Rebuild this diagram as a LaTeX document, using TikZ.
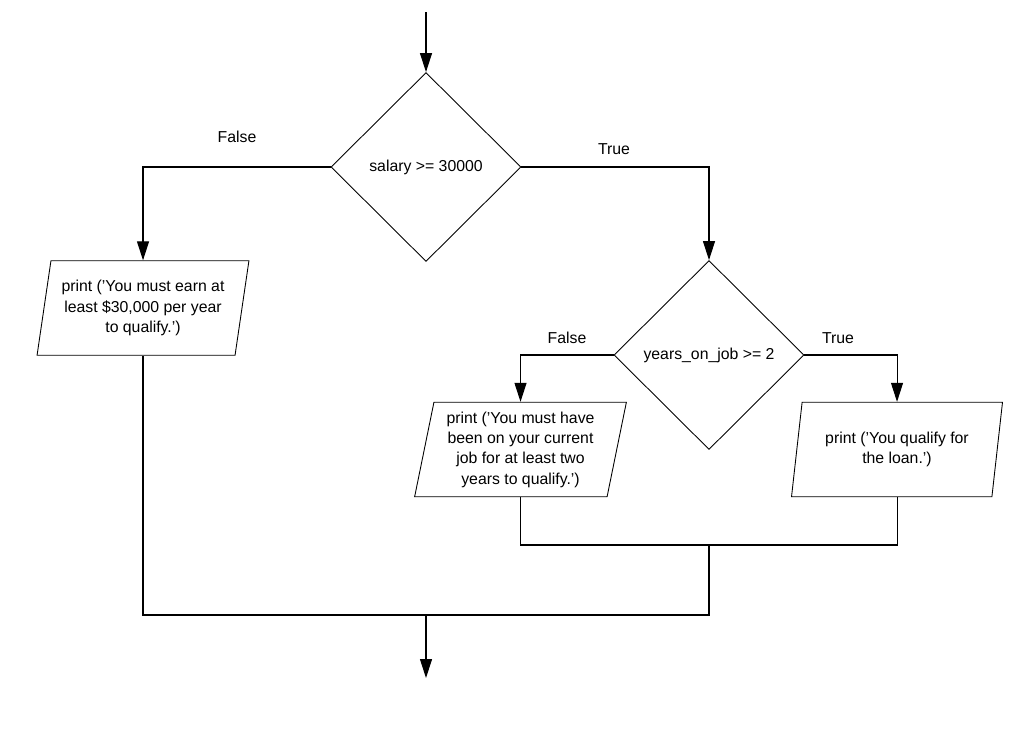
\documentclass[tikz,border=0pt]{standalone}
\usepackage{fontspec}
\setmainfont{Liberation Sans}
\usetikzlibrary{shapes.geometric}
\usetikzlibrary{arrows.meta}
\usetikzlibrary{positioning}

\begin{document}
\begin{tikzpicture}[
  x=0.02cm,
  y=-0.02cm,
  every node/.style={font=\fontsize{9}{11.6}\selectfont},
  decision/.style={diamond, draw, inner sep=0pt, minimum width=3.8cm, minimum height=3.78cm, line width=0.5pt},
  output/.style={trapezium, trapezium left angle=78, trapezium right angle=102, trapezium stretches=true,
    draw, inner sep=1pt, minimum width=4.24cm, minimum height=1.89cm, align=center, line width=0.5pt},
  flow/.style={line width=0.6pt},
  arrow/.style={flow, -{Triangle[length=0.38cm, width=0.24cm]}}
]

\useasboundingbox (0,0) rectangle (1030,751);

% decisions
\node[decision] (salary) at (426,167) {salary >= 30000};
\node[decision] (years) at (709,355) {years\_on\_job >= 2};

% outputs
\node[output] (earn) at (143,308) {print ('You must earn at\\ least \$30,000 per year\\ to qualify.')};
\node[output] (onjob) at (520.5,449.5) {print ('You must have\\ been on your current\\ job for at least two\\ years to qualify.')};
\node[output] (loan) at (897,449.5) {print ('You qualify for\\ the loan.')};

\coordinate (start) at (426,12);
\coordinate (stop) at (426,678);
\coordinate (join2) at (709,545);
\coordinate (join1) at (426,615);

\draw[arrow] (start) -- (salary.north);
\draw[arrow] (salary.west) -| (earn.north);
\draw[arrow] (salary.east) -| (years.north);
\draw[arrow] (years.west) -| (onjob.north);
\draw[arrow] (years.east) -| (loan.north);

\draw[flow] (onjob.south) |- (join2) -| (loan.south);
\draw[flow] (join2) |- (join1) -| (earn.south);
\draw[arrow] (join1) -- (stop);

% branch labels
\node (f1) at (237,137) {False};
\node (t1) at (614,149) {True};
\node (f2) at (567,338) {False};
\node (t2) at (838,338) {True};

\end{tikzpicture}
\end{document}
